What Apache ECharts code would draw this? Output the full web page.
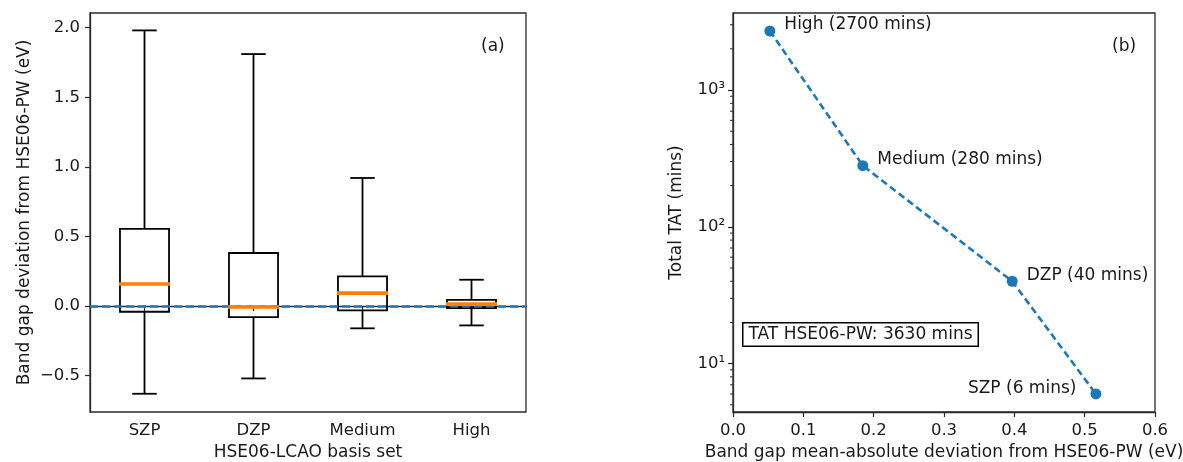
<!DOCTYPE html>
<html><head><meta charset="utf-8">
<script src="https://cdn.jsdelivr.net/npm/echarts@6/dist/echarts.min.js"></script>
<style>html,body{margin:0;padding:0;background:#fff}#c{width:1183px;height:462px}</style>
</head><body><div id="c"></div>
<script>
// ---- Panel (a): box plot data ----
const basisSets = ['SZP', 'DZP', 'Medium', 'High'];
const whiskerLow = [-0.63, -0.52, -0.16, -0.139];
const q1 = [-0.041, -0.079, -0.031, -0.014];
const medians = [0.158, -0.007, 0.093, 0.014];
const q3 = [0.555, 0.381, 0.213, 0.045];
const whiskerHigh = [1.98, 1.81, 0.92, 0.189];
const leftYTicks = [-0.5, 0, 0.5, 1.0, 1.5, 2.0];

// ---- Panel (b): TAT vs MAD ----
const tatNames = ['High (2700 mins)', 'Medium (280 mins)', 'DZP (40 mins)', 'SZP (6 mins)'];
const tatMAD = [0.0524, 0.1846, 0.397, 0.516];
const tatMins = [2700, 280, 40, 6];
const logMajorTicks = [10, 100, 1000];
const logMinorTicks = [5, 6, 7, 8, 9, 20, 30, 40, 50, 60, 70, 80, 90, 200, 300, 400, 500, 600, 700, 800, 900, 2000, 3000];

const FONT = 'DejaVu Sans';
const TXT = '#1a1a1a';
const FRAME = '#2a2a2a';
const BLUE = '#1f77b4';
const ORANGE = '#ff7f0e';
const TICKFS = 16.5;
const NAMEFS = 17;
const sup = {1: '\u00b9', 2: '\u00b2', 3: '\u00b3'};

const boxData = basisSets.map((s, i) => [i, whiskerLow[i], q1[i], medians[i], q3[i], whiskerHigh[i]]);
const medData = basisSets.map((s, i) => [i, medians[i]]);
const tatData = tatMAD.map((x, i) => ({
  value: [x, tatMins[i]],
  name: tatNames[i],
  label: i === 3 ? {position: 'left', distance: 14, offset: [0, -5]} : {position: 'right', distance: 9, offset: [0, -6]}
}));

const chart = echarts.init(document.getElementById('c'), null, {renderer: 'canvas'});

const tickStyle = {color: FRAME, width: 1.2};
const axisCommon = {
  axisLine: {show: true, lineStyle: {color: FRAME, width: 1.3}},
  splitLine: {show: false},
  nameTextStyle: {color: TXT, fontFamily: FONT, fontSize: NAMEFS},
  nameLocation: 'middle'
};

const option = {
  animation: false,
  backgroundColor: '#fff',
  textStyle: {fontFamily: FONT},
  grid: [
    {left: 90, top: 13, width: 436, height: 399, show: true, borderColor: FRAME, borderWidth: 1.3, containLabel: false, outerBoundsMode: 'none'},
    {left: 733, top: 13, width: 422, height: 399, show: true, borderColor: FRAME, borderWidth: 1.3, containLabel: false, outerBoundsMode: 'none'}
  ],
  xAxis: [
    Object.assign({}, axisCommon, {
      type: 'category', gridIndex: 0, data: basisSets, boundaryGap: true,
      name: 'HSE06-LCAO basis set', nameGap: 32,
      axisTick: {show: true, alignWithLabel: true, length: 5, lineStyle: tickStyle},
      axisLabel: {color: TXT, fontFamily: FONT, fontSize: TICKFS, margin: 10}
    }),
    Object.assign({}, axisCommon, {
      type: 'value', gridIndex: 1, min: 0, max: 0.6, interval: 0.1,
      name: 'Band gap mean-absolute deviation from HSE06-PW (eV)', nameGap: 32,
      axisTick: {show: true, length: 5, lineStyle: tickStyle},
      axisLabel: {color: TXT, fontFamily: FONT, fontSize: TICKFS, margin: 10, formatter: v => v.toFixed(1)}
    })
  ],
  yAxis: [
    Object.assign({}, axisCommon, {
      type: 'value', gridIndex: 0, min: -0.761, max: 2.105,
      name: 'Band gap deviation from HSE06-PW (eV)', nameGap: 57,
      axisTick: {show: true, length: 5, customValues: leftYTicks, lineStyle: tickStyle},
      axisLabel: {color: TXT, fontFamily: FONT, fontSize: TICKFS, margin: 10, customValues: leftYTicks,
        formatter: v => (v < 0 ? '\u2212' : '') + Math.abs(v).toFixed(1)}
    }),
    Object.assign({}, axisCommon, {
      type: 'log', logBase: 10, gridIndex: 1, min: 4.43, max: 3656,
      name: 'Total TAT (mins)', nameGap: 48,
      axisTick: {show: true, length: 5, customValues: logMajorTicks, lineStyle: tickStyle},
      axisLabel: {color: TXT, fontFamily: FONT, fontSize: TICKFS, margin: 8, customValues: logMajorTicks,
        formatter: v => { const e = Math.round(Math.log10(v)); return '10' + (sup[e] || e); }}
    })
  ],
  series: [
    {
      type: 'custom', name: 'boxes', xAxisIndex: 0, yAxisIndex: 0, z: 2,
      data: boxData,
      encode: {x: 0, y: [1, 2, 3, 4, 5]},
      renderItem: function (params, api) {
        const i = api.value(0);
        const pLo = api.coord([i, api.value(1)]);
        const pQ1 = api.coord([i, api.value(2)]);
        const pQ3 = api.coord([i, api.value(4)]);
        const pHi = api.coord([i, api.value(5)]);
        const band = api.size([1, 0])[0];
        const hw = band * 0.45 / 2, cw = hw / 2, cx = pLo[0];
        const st = {stroke: '#000', lineWidth: 1.8, fill: null};
        return {type: 'group', children: [
          {type: 'rect', shape: {x: cx - hw, y: pQ3[1], width: 2 * hw, height: pQ1[1] - pQ3[1]}, style: {stroke: '#000', lineWidth: 1.8, fill: 'rgba(0,0,0,0)'}},
          {type: 'line', shape: {x1: cx, y1: pQ3[1], x2: cx, y2: pHi[1]}, style: st},
          {type: 'line', shape: {x1: cx, y1: pQ1[1], x2: cx, y2: pLo[1]}, style: st},
          {type: 'line', shape: {x1: cx - cw, y1: pHi[1], x2: cx + cw, y2: pHi[1]}, style: st},
          {type: 'line', shape: {x1: cx - cw, y1: pLo[1], x2: cx + cw, y2: pLo[1]}, style: st}
        ]};
      },
      markLine: {
        silent: true, symbol: 'none', z: 5,
        label: {show: false},
        lineStyle: {color: BLUE, width: 2.6, type: [8, 4]},
        data: [{yAxis: 0}]
      }
    },
    {
      type: 'custom', name: 'medians', xAxisIndex: 0, yAxisIndex: 0, z: 8,
      data: medData,
      encode: {x: 0, y: 1},
      renderItem: function (params, api) {
        const p = api.coord([api.value(0), api.value(1)]);
        const hw = api.size([1, 0])[0] * 0.45 / 2;
        return {type: 'line', shape: {x1: p[0] - hw - 1, y1: p[1], x2: p[0] + hw + 1, y2: p[1]}, style: {stroke: ORANGE, lineWidth: 3.6}};
      }
    },
    {
      type: 'line', name: 'TAT', xAxisIndex: 1, yAxisIndex: 1, z: 4,
      data: tatData,
      symbol: 'circle', symbolSize: 11,
      itemStyle: {color: BLUE},
      lineStyle: {color: BLUE, width: 2.6, type: [7, 4]},
      label: {show: true, formatter: p => p.name, color: TXT, fontFamily: FONT, fontSize: NAMEFS}
    },
    {
      type: 'custom', name: 'minorTicks', xAxisIndex: 1, yAxisIndex: 1, z: 3, silent: true,
      data: logMinorTicks.map(v => [0, v]),
      encode: {x: 0, y: 1},
      renderItem: function (params, api) {
        const p = api.coord([0, api.value(1)]);
        return {type: 'line', shape: {x1: p[0] - 3, y1: p[1], x2: p[0], y2: p[1]}, style: {stroke: FRAME, lineWidth: 1}};
      }
    }
  ],
  graphic: [
    {type: 'text', left: 481, top: 38, style: {text: '(a)', fill: TXT, font: NAMEFS + 'px "DejaVu Sans"'}},
    {type: 'text', left: 1112, top: 38, style: {text: '(b)', fill: TXT, font: NAMEFS + 'px "DejaVu Sans"'}},
    {type: 'text', left: 742, top: 322, style: {text: 'TAT HSE06-PW: 3630 mins', fill: TXT, font: NAMEFS + 'px "DejaVu Sans"',
      borderColor: '#000', borderWidth: 1.5, padding: [3, 5, 2, 5], backgroundColor: '#fff'}}
  ]
};
chart.setOption(option);
</script>
</body></html>
